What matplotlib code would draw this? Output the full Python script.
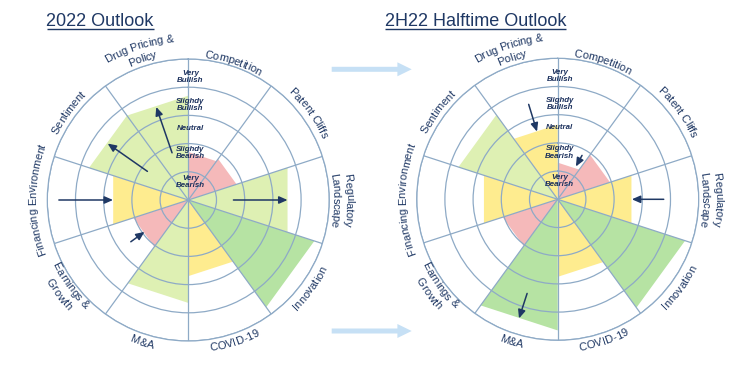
import numpy as np
import matplotlib
matplotlib.use("Agg")
import matplotlib.pyplot as plt
from matplotlib.patches import FancyArrow
from matplotlib.font_manager import FontProperties, findfont, get_font

# ---------------- data ----------------
categories = ["Competition", "Patent Cliffs", "Regulatory\nLandscape", "Innovation",
              "COVID-19", "M&A", "Earnings &\nGrowth", "Financing Environment",
              "Sentiment", "Drug Pricing &\nPolicy"]

level_labels = ["Very\nBearish", "Slighdy\nBearish", "Neutral", "Slighdy\nBullish", "Very\nBullish"]

titles = ["2022 Outlook", "2H22 Halftime Outlook"]

values_2022 = [1.7, 1.8, 3.7, 4.7, 2.7, 3.65, 2.05, 2.8, 3.7, 3.7]
levels_2022 = ["bearish", "bearish", "sl_bullish", "bullish", "neutral",
               "sl_bullish", "bearish", "neutral", "sl_bullish", "sl_bullish"]

values_2h22 = [1.3, 1.95, 2.75, 4.75, 2.75, 4.65, 2.05, 2.75, 3.7, 2.65]
levels_2h22 = ["bearish", "bearish", "neutral", "bullish", "neutral",
               "bullish", "bearish", "neutral", "sl_bullish", "neutral"]

# arrows: (from value, to value, angle in degrees clockwise from north)
arrows_2022 = [(1.77, 3.49, 341), (1.77, 3.49, 305), (4.59, 2.67, 270),
               (1.6, 3.52, 90), (2.52, 1.92, 234)]
arrows_2h22 = [(3.52, 2.51, 343), (1.78, 1.33, 29), (3.76, 2.63, 90),
               (3.51, 4.44, 198)]

# ---------------- style ----------------
NAVY = "#1f3864"
GRID = "#8eaac6"
FILL = {"bearish": "#f5b9ba", "neutral": "#feec8f",
        "sl_bullish": "#def0b3", "bullish": "#b6e3a3"}
ARROW_BLUE = "#c6e0f5"

W, H, DPI = 750, 373, 100
plt.rcParams["font.family"] = ["Liberation Sans", "DejaVu Sans"]

fig = plt.figure(figsize=(W / DPI, H / DPI), dpi=DPI)

# overlay axes in pixel coordinates for titles and connector arrows
ov = fig.add_axes([0, 0, 1, 1], zorder=0)
ov.set_xlim(0, W)
ov.set_ylim(H, 0)
ov.axis("off")

label_fp = FontProperties(family="Liberation Sans", size=8)
title_fp = FontProperties(family="Liberation Sans", size=13)


def advances(text, fp):
    font = get_font(findfont(fp))
    font.set_size(fp.get_size_in_points(), DPI)
    return [font.load_char(ord(c)).linearHoriAdvance / 65536 for c in text]


def curved_label(ax, text, phi, rc_px, ppu):
    lines = text.split("\n")
    n = len(lines)
    p = phi % 360
    top = (p >= 270) or (p <= 90)
    spacing = 13.3
    cap = 0.716 * label_fp.get_size_in_points() * DPI / 72
    for i, line in enumerate(lines):
        if top:
            R = rc_px + (n - 1) / 2 * spacing - i * spacing
            Rb = R - cap / 2
        else:
            R = rc_px - (n - 1) / 2 * spacing + i * spacing
            Rb = R + cap / 2
        adv = advances(line, label_fp)
        total = sum(adv)
        cum = 0.0
        for ch, a in zip(line, adv):
            c = cum + a / 2 - total / 2
            cum += a
            if ch == " ":
                continue
            dth = np.degrees(c / R)
            th = phi + dth if top else phi - dth
            rot = -th if top else 180 - th
            ax.text(np.radians(th), Rb / ppu, ch, rotation=rot, rotation_mode="anchor",
                    ha="center", va="baseline", fontproperties=label_fp, color=NAVY,
                    clip_on=False)


label_r_px = [147, 151, 155, 151, 149, 149, 153, 156, 150, 156]
level_r = [0.64, 1.66, 2.54, 3.38, 4.37]
RADIUS_PX = 141
centers = [(188.3, 200.0), (557.7, 199.3)]
title_pos = [(46.5, 26.0), (385.0, 26.0)]


def draw_chart(center, values, levels, arrows, title, tpos):
    cx, cy = center
    rect = [(cx - RADIUS_PX) / W, (H - cy - RADIUS_PX) / H, 2 * RADIUS_PX / W, 2 * RADIUS_PX / H]
    ax = fig.add_axes(rect, projection="polar", zorder=2)
    ax.set_theta_zero_location("N")
    ax.set_theta_direction(-1)
    ax.set_ylim(0, 5)
    ax.set_rticks([1, 2, 3, 4, 5])
    ax.set_yticklabels([])
    ax.set_xticks(np.radians(np.arange(0, 360, 36)))
    ax.set_xticklabels([])
    ax.tick_params(length=0)
    ax.grid(True, color=GRID, lw=0.9)
    ax.spines["polar"].set_color(GRID)
    ax.spines["polar"].set_linewidth(0.9)
    ppu = RADIUS_PX / 5.0
    n = len(values)
    step = 360 / n
    for i, (v, lev) in enumerate(zip(values, levels)):
        a = np.radians(i * step)
        b = np.radians((i + 1) * step)
        ax.fill([0, a, b], [0, v, v], color=FILL[lev], lw=0, zorder=1)
    for (r0, r1, th) in arrows:
        ax.annotate("", xy=(np.radians(th), r1), xytext=(np.radians(th), r0),
                    arrowprops=dict(arrowstyle="-|>,head_length=0.5,head_width=0.22",
                                    color=NAVY, lw=1.1, shrinkA=0, shrinkB=0,
                                    mutation_scale=10), zorder=5)
    for lab, r in zip(level_labels, level_r):
        ax.annotate(lab, xy=(0, r), xytext=(1.5, 0), textcoords="offset points",
                    ha="center", va="center", fontsize=5.7, fontweight="bold",
                    fontstyle="italic", color="#1a2f5c", linespacing=1.05, zorder=6)
    for i, cat in enumerate(categories):
        curved_label(ax, cat, i * step + step / 2, label_r_px[i], ppu)
    # title with underline
    tx, ty = tpos
    ov.text(tx, ty, title, fontproperties=title_fp, color=NAVY, ha="left", va="baseline")
    tw = sum(advances(title, title_fp))
    ov.plot([tx, tx + tw], [ty + 3.2, ty + 3.2], color=NAVY, lw=1.0, solid_capstyle="butt")
    return ax


draw_chart(centers[0], values_2022, levels_2022, arrows_2022, titles[0], title_pos[0])
draw_chart(centers[1], values_2h22, levels_2h22, arrows_2h22, titles[1], title_pos[1])

for y in (69.3, 331.0):
    ov.add_patch(FancyArrow(331.7, y, 80, 0, width=5, head_width=14, head_length=14.3,
                            length_includes_head=True, color=ARROW_BLUE, lw=0))

fig.savefig("out.png", dpi=DPI)
